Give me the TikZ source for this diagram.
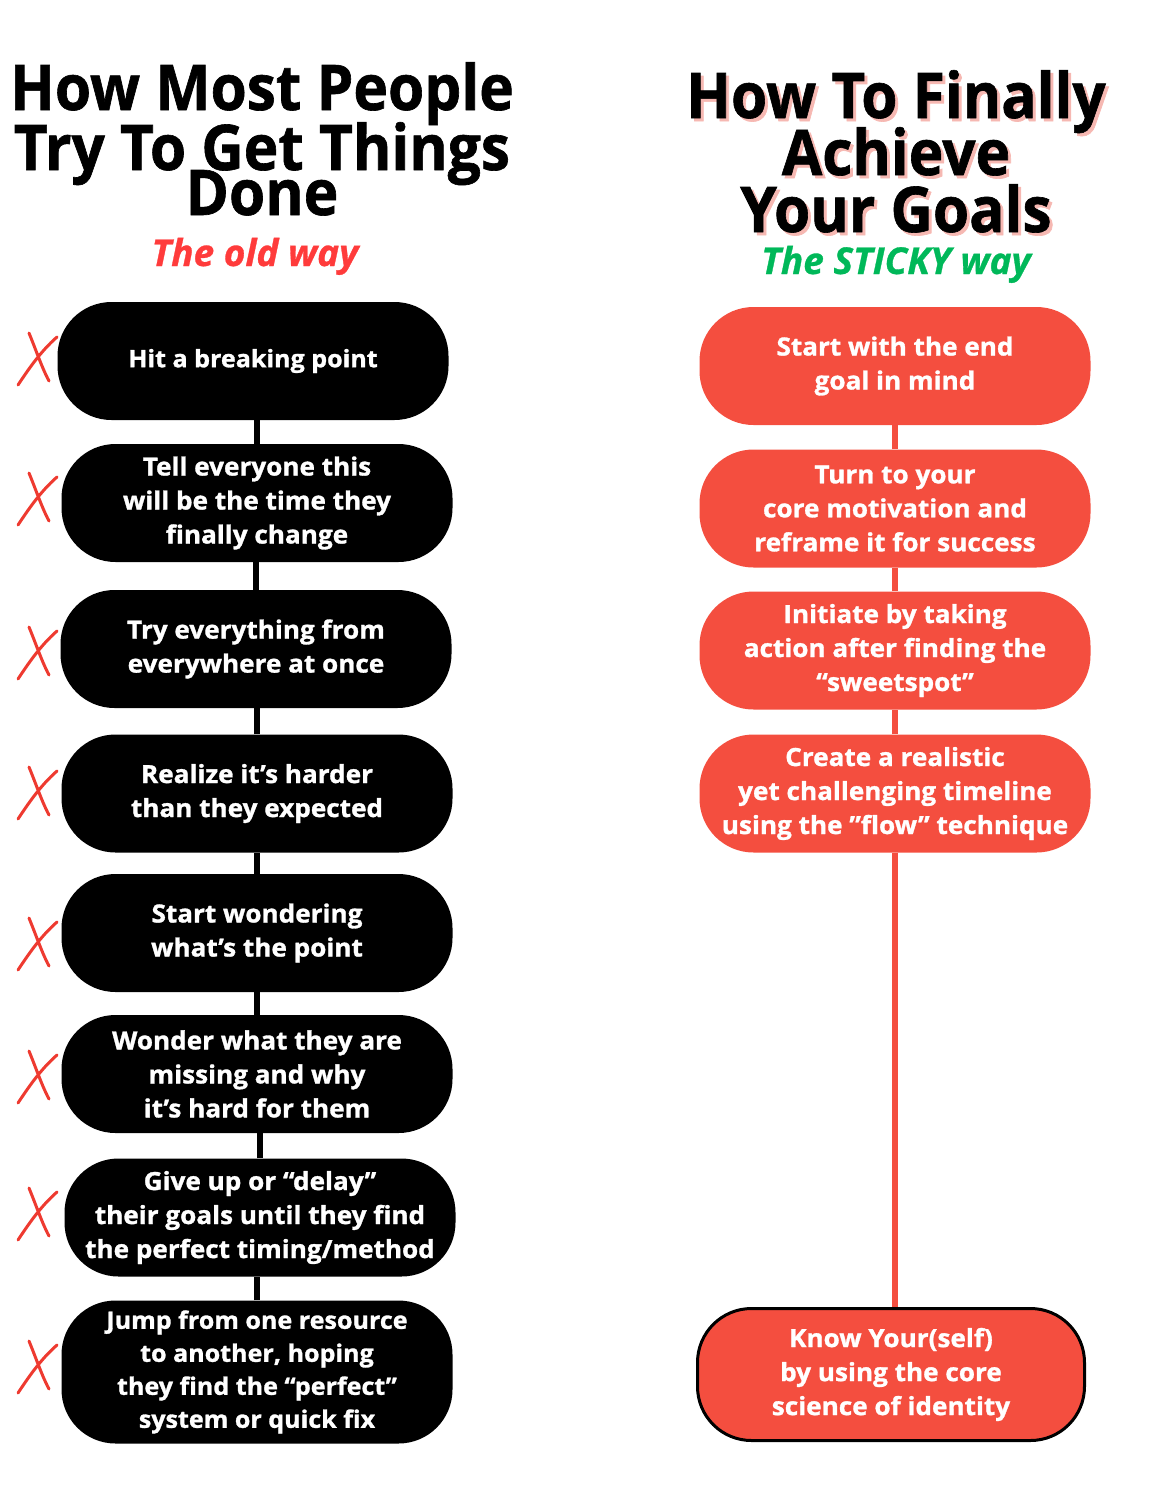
\documentclass[tikz,border=0pt]{standalone}
\usepackage{fontspec}
\setmainfont{Open Sans}
\newfontfamily\headfont[FakeStretch=0.93, FakeBold=1]{Open Sans}
\newfontfamily\wayfont[FakeBold=0.8]{Open Sans}
\newfontfamily\boxfont[FakeStretch=1.045, FakeBold=1.2]{Open Sans}
\usetikzlibrary{positioning}
\definecolor{oldred}{HTML}{FF3B3B}
\definecolor{stickygreen}{HTML}{00B859}
\definecolor{boxred}{HTML}{F44E3F}
\definecolor{crossred}{HTML}{EE3A30}
\definecolor{shadowpink}{HTML}{F6B8B2}

\begin{document}
\begin{tikzpicture}[x=1pt,y=-1pt,
  head/.style={anchor=base, inner sep=0pt, font=\headfont\bfseries\fontsize{63}{63}\selectfont},
  way/.style={anchor=base, inner sep=0pt, font=\wayfont\bfseries\itshape\fontsize{37}{37}\selectfont},
  oldbox/.style={fill=black, text=white, rounded corners=54pt, minimum width=391pt,
    minimum height=118pt, inner sep=0pt, align=center, font=\boxfont\bfseries\fontsize{25}{34}\selectfont},
  newbox/.style={oldbox, fill=boxred},
  smalltext/.style={font=\boxfont\bfseries\fontsize{24}{#1}\selectfont},
  oldlink/.style={line width=6pt, black},
  newlink/.style={line width=6pt, boxred},
  cross/.style={crossred, line width=3pt, line cap=round}]
\useasboundingbox (0,0) rectangle (1156,1500);

% the old way
\node[head] (lt1) at (262,110) {How Most People};
\node[head] (lt2) at (262,170) {Try To Get Things};
\node[head] (lt3) at (262,215) {Done};
\node[way, oldred] (old) at (255,266) {The old way};

\node[oldbox, smalltext=34] (h1) at (253,361) {Hit a breaking point};
\node[oldbox] (h2) at (257,503) {Tell everyone this\\will be the time they\\finally change};
\node[oldbox] (h3) at (256,649) {Try everything from\\everywhere at once};
\node[oldbox] (h4) at (257,793.5) {Realize it’s harder\\than they expected};
\node[oldbox] (h5) at (257,933) {Start wondering\\what’s the point};
\node[oldbox] (h6) at (257,1074) {Wonder what they are\\missing and why\\it’s hard for them};
\node[oldbox] (h7) at (260,1217.5) {Give up or “delay”\\their goals until they find\\the perfect timing/method};
\node[oldbox, minimum height=143pt, smalltext=33] (h8) at (257,1372)
  {Jump from one resource\\to another, hoping\\they find the “perfect”\\system or quick fix};

\draw[oldlink] (h2.north) -- (h2.north |- h1.south);
\draw[oldlink] (h3.north) -- (h3.north |- h2.south);
\draw[oldlink] (h4.north) -- (h4.north |- h3.south);
\draw[oldlink] (h5.north) -- (h5.north |- h4.south);
\draw[oldlink] (h6.north) -- (h6.north |- h5.south);
\draw[oldlink] (h7.north) -- (h7.north |- h6.south);
\draw[oldlink] (h8.north) -- (h8.north |- h7.south);

% crosses
\foreach \y in {360,500,654,794,945,1078,1215,1368}
  \draw[cross] (57,\y-23) .. controls (40,\y-8) and (28,\y+10) .. (18,\y+25)
               (29,\y-27) .. controls (36,\y-10) and (42,\y+8) .. (49,\y+21);

% the sticky way
\foreach \txt/\yy [count=\i] in {How To Finally/118, Achieve/175, Your Goals/232}
  \node[head, shadowpink] (rts\i) at (899,\yy+3) {\txt};
\foreach \txt/\yy [count=\i] in {How To Finally/118, Achieve/175, Your Goals/232}
  \node[head] (rt\i) at (896,\yy) {\txt};
\node[way, stickygreen] (sticky) at (896,274) {The STICKY way};

\node[newbox] (s1) at (895,366) {Start with the end\\goal in mind};
\node[newbox] (s2) at (895,508.5) {Turn to your\\core motivation and\\reframe it for success};
\node[newbox] (s3) at (895,650.5) {Initiate by taking\\action after finding the\\“sweetspot”};
\node[newbox] (s4) at (895,793.5) {Create a realistic\\yet challenging timeline\\using the ”flow” technique};
\node[newbox, draw=black, line width=3pt, minimum width=387pt, minimum height=132pt] (s5) at (891,1374.5)
  {Know Your(self)\\by using the core\\science of identity};

\draw[newlink] (s2.north) -- (s2.north |- s1.south);
\draw[newlink] (s3.north) -- (s3.north |- s2.south);
\draw[newlink] (s4.north) -- (s4.north |- s3.south);
\draw[newlink] (s4.south) -- (s4.south |- s5.north);
\end{tikzpicture}
\end{document}
